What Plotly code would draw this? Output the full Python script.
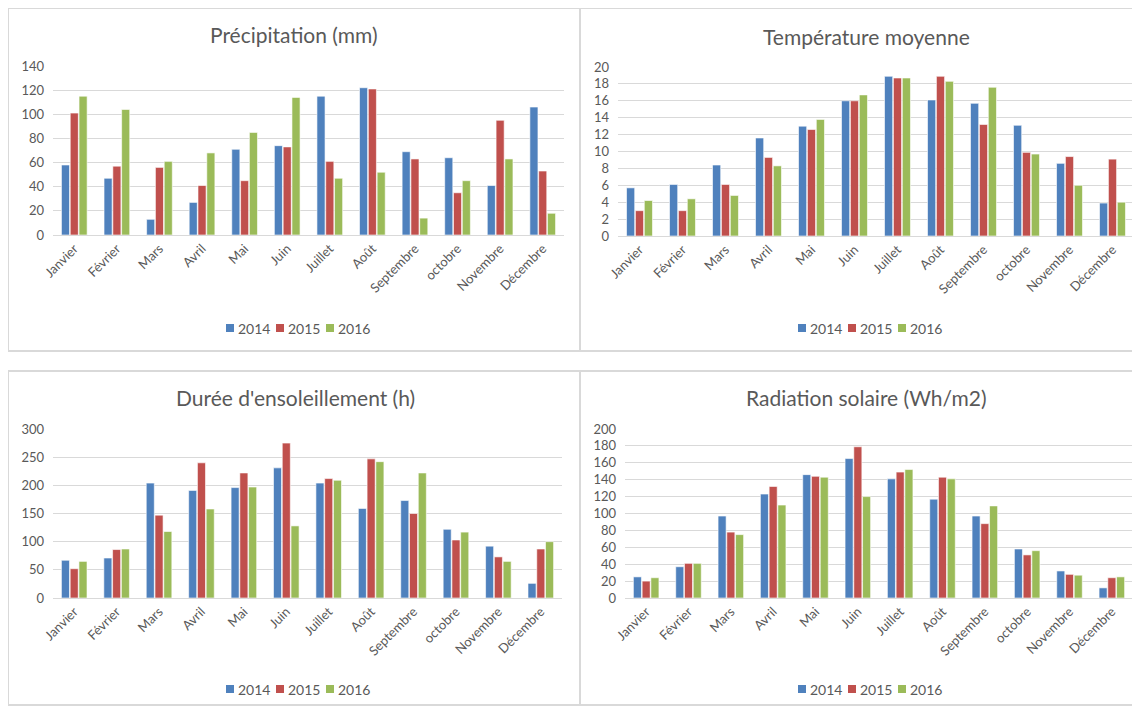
import plotly.graph_objects as go

W, H = 1140, 706

months = ["Janvier", "Février", "Mars", "Avril", "Mai", "Juin", "Juillet",
          "Août", "Septembre", "octobre", "Novembre", "Décembre"]
years = ["2014", "2015", "2016"]
colors = ["#4F81BD", "#C0504D", "#9BBB59"]

precip_2014 = [58, 47, 13, 27, 71, 74, 115, 122, 69, 64, 41, 106]
precip_2015 = [101, 57, 56, 41, 45, 73, 61, 121, 63, 35, 95, 53]
precip_2016 = [115, 104, 61, 68, 85, 114, 47, 52, 14, 45, 63, 18]

temp_2014 = [5.7, 6.1, 8.4, 11.6, 13.0, 16.0, 18.9, 16.1, 15.7, 13.1, 8.6, 3.9]
temp_2015 = [3.0, 3.0, 6.1, 9.3, 12.6, 16.0, 18.7, 18.9, 13.2, 9.9, 9.4, 9.1]
temp_2016 = [4.2, 4.4, 4.8, 8.3, 13.8, 16.7, 18.7, 18.3, 17.6, 9.7, 6.0, 4.0]

sun_2014 = [67, 71, 204, 191, 196, 231, 204, 159, 173, 122, 92, 26]
sun_2015 = [52, 86, 147, 240, 222, 275, 212, 247, 150, 103, 73, 87]
sun_2016 = [65, 87, 118, 158, 197, 128, 209, 242, 222, 117, 65, 100]

rad_2014 = [25, 37, 97, 123, 146, 165, 141, 117, 97, 58, 32, 12]
rad_2015 = [20, 41, 78, 132, 144, 179, 149, 143, 88, 51, 28, 24]
rad_2016 = [24, 41, 75, 110, 143, 120, 152, 141, 109, 56, 27, 25]

titles = ["Précipitation (mm)", "Température moyenne",
          "Durée d'ensoleillement (h)", "Radiation solaire (Wh/m2)"]
y_ticks = [list(range(0, 141, 20)), list(range(0, 21, 2)),
           list(range(0, 301, 50)), list(range(0, 201, 20))]
series = [[precip_2014, precip_2015, precip_2016],
          [temp_2014, temp_2015, temp_2016],
          [sun_2014, sun_2015, sun_2016],
          [rad_2014, rad_2015, rad_2016]]

FONT = "Lato, 'Open Sans', sans-serif"
TXT = "#595959"

# target screen-pixel layout of each panel (plot area x0, x1, y_top, y_bottom)
plot_px = [(53, 564, 66, 235), (618, 1134, 67, 236),
           (53, 562, 429, 598), (625, 1133, 429, 598)]
title_px = [(294, 35), (866, 36), (295, 397), (866, 397)]
legend_px = [(226, 328), (798, 328), (226, 689), (798, 689)]
panel_px = [(8, 580, 8, 351), (580, 1138, 8, 351),
            (8, 580, 371, 705), (580, 1138, 371, 705)]

OFF = 8  # page body margin offset

def px(x):
    return (x - OFF) / W

def py(y):
    return 1 - (y - OFF) / H

fig = go.Figure()
layout = dict(
    width=W, height=H, margin=dict(l=0, r=0, t=0, b=0, autoexpand=False),
    paper_bgcolor="white", plot_bgcolor="white",
    font=dict(family=FONT, color=TXT, size=13),
    barmode="group", bargap=0.38, bargroupgap=0.08,
    showlegend=False,
    shapes=[], annotations=[],
)

for i in range(4):
    n = i + 1
    xa = "x" if n == 1 else f"x{n}"
    ya = "y" if n == 1 else f"y{n}"
    for j in range(3):
        fig.add_trace(go.Bar(
            x=months, y=series[i][j], name=years[j],
            marker=dict(color=colors[j], line=dict(color="rgba(255,255,255,0.6)", width=1)),
            xaxis=xa, yaxis=ya,
        ))
    x0, x1, yt, yb = plot_px[i]
    ymax = y_ticks[i][-1]
    layout[f"xaxis{'' if n == 1 else n}"] = dict(
        domain=[px(x0), px(x1)], anchor=ya, tickangle=-45, automargin=False,
        showgrid=False, showline=True, linecolor="#D9D9D9", linewidth=1,
        ticks="", tickfont=dict(size=13, color=TXT, family=FONT),
        fixedrange=True,
    )
    layout[f"yaxis{'' if n == 1 else n}"] = dict(
        domain=[py(yb), py(yt)], anchor=xa, range=[0, ymax], automargin=False,
        tickvals=y_ticks[i], showgrid=True, gridcolor="#D9D9D9", gridwidth=1,
        zeroline=False, showline=False, ticks="",
        tickfont=dict(size=13, color=TXT, family=FONT), ticklabelstandoff=8,
        fixedrange=True,
    )
    tx, ty = title_px[i]
    layout["annotations"].append(dict(
        text=titles[i], x=px(tx), y=py(ty), xref="paper", yref="paper",
        xanchor="center", yanchor="middle", showarrow=False,
        font=dict(size=21, color=TXT, family=FONT),
    ))
    # legend: colour squares + year labels
    lx, ly = legend_px[i]
    for j in range(3):
        sx = lx + 50 * j
        layout["shapes"].append(dict(
            type="rect", xref="paper", yref="paper",
            x0=px(sx), x1=px(sx + 8), y0=py(ly + 4), y1=py(ly - 4),
            line=dict(width=0), fillcolor=colors[j],
        ))
        layout["annotations"].append(dict(
            text=years[j], x=px(sx + 10), y=py(ly), xref="paper", yref="paper",
            xanchor="left", yanchor="middle", showarrow=False,
            font=dict(size=14, color=TXT, family=FONT),
        ))
    a0, a1, b0, b1 = panel_px[i]
    layout["shapes"].append(dict(
        type="rect", xref="paper", yref="paper",
        x0=px(a0), x1=px(a1), y0=py(b1), y1=py(b0),
        line=dict(color="#D9D9D9", width=2), fillcolor="rgba(0,0,0,0)", layer="below",
    ))

fig.update_layout(**layout)
fig.write_html("out.html")
